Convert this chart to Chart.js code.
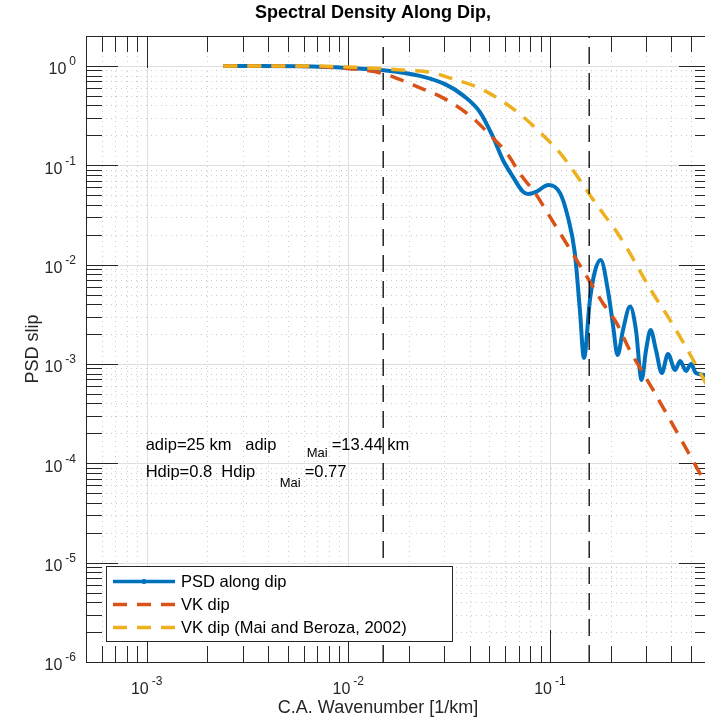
<!DOCTYPE html>
<html>
<head>
<meta charset="utf-8">
<script src="https://cdn.jsdelivr.net/npm/chart.js@4/dist/chart.umd.min.js"></script>
<style>
  html, body { margin: 0; padding: 0; background: #fff; overflow: hidden; }
  #wrap { position: relative; width: 720px; height: 723px; }
</style>
</head>
<body>
<div id="wrap"><canvas id="c" width="720" height="723"></canvas></div>
<script>
/* ── data ───────────────────────────────────────────────────────────────── */
const K_MIN = 5e-4, K_MAX = 0.63;     // wavenumber range [1/km]
const P_MIN = 1e-6, P_MAX = 2;        // PSD range

const xTickVals = [1e-3, 1e-2, 1e-1];
const xTickExp  = ['-3', '-2', '-1'];
const yTickVals = [1e0, 1e-1, 1e-2, 1e-3, 1e-4, 1e-5, 1e-6];
const yTickExp  = ['0', '-1', '-2', '-3', '-4', '-5', '-6'];

/* PSD along dip (blue) */
const psdK = [0.0024, 0.00363, 0.00573, 0.00982, 0.01483, 0.02265, 0.0307, 0.0371, 0.0449, 0.0521,
              0.0585, 0.0655, 0.0735, 0.0780, 0.0859, 0.0982, 0.1122, 0.1227, 0.1330, 0.1409,
              0.1476, 0.158, 0.167, 0.1786, 0.195, 0.2056, 0.2168, 0.2306, 0.250, 0.2673,
              0.285, 0.300, 0.316, 0.336, 0.359, 0.3855, 0.418, 0.443, 0.474, 0.501,
              0.531, 0.63];
const psdV = [1.0, 1.0, 0.99, 0.955, 0.905, 0.793, 0.644, 0.505, 0.345, 0.195,
              0.113, 0.0769, 0.0543, 0.0514, 0.0543, 0.0634, 0.0527, 0.0304, 0.0131, 0.0035,
              0.00115, 0.0044, 0.00843, 0.0111, 0.00519, 0.00247, 0.00123, 0.0022, 0.00378, 0.0022,
              0.00069, 0.00138, 0.0022, 0.00138, 0.00081, 0.00126, 0.00087, 0.00107, 0.00085, 0.00100,
              0.00081, 0.00077];

/* VK dip (red dashed) */
const vkK = [0.0024, 0.00573, 0.01051, 0.01483, 0.0209, 0.0308, 0.0414, 0.0504, 0.0611, 0.0718,
             0.0851, 0.100, 0.1358, 0.158, 0.183, 0.214, 0.249, 0.290, 0.325, 0.443, 0.63];
const vkV = [1.0, 0.99, 0.933, 0.84, 0.644, 0.455, 0.2996, 0.202, 0.133, 0.0799,
             0.0514, 0.0304, 0.0111, 0.00673, 0.00411, 0.00259, 0.00138, 0.00081, 0.000547, 0.00018, 0.00005];

/* VK dip, Mai and Beroza 2002 (yellow dashed) */
const maiK = [0.0024, 0.00573, 0.00982, 0.01432, 0.0194, 0.0254, 0.0330, 0.0449, 0.0585, 0.0735,
              0.0922, 0.1122, 0.130, 0.158, 0.183, 0.214, 0.249, 0.290, 0.332, 0.3855,
              0.451, 0.536, 0.63];
const maiV = [1.0, 1.0, 0.977, 0.94, 0.905, 0.864, 0.740, 0.596, 0.437, 0.309,
              0.202, 0.133, 0.0897, 0.0503, 0.0331, 0.0215, 0.0131, 0.00757, 0.00476, 0.00299,
              0.00175, 0.00094, 0.00051];

/* vertical reference wavenumbers (black dashed) */
const kLines = [0.0149, 0.1567];

const seriesNames = ['PSD along dip', 'VK dip', 'VK dip (Mai and Beroza, 2002)'];
const C_BLUE = '#0072BD', C_RED = '#D95319', C_YEL = '#EDB120';
const AX = '#262626';
const FONT = '"Liberation Sans", Arial, Helvetica, sans-serif';

const pts = (ks, vs) => ks.map((k, i) => ({ x: k, y: vs[i] }));

/* ── decade + minor tick values on a log range ─────────────────────────── */
function logTicks(min, max) {
  const out = [];
  for (let d = Math.floor(Math.log10(min)); d <= Math.ceil(Math.log10(max)); d++) {
    for (let m = 1; m <= 9; m++) {
      const v = m * Math.pow(10, d);
      if (v >= min * 0.9999 && v <= max * 1.0001) out.push({ v, major: m === 1 });
    }
  }
  return out;
}

/* draw "10" with a superscript exponent; (x,y) = anchor, align left/center/right */
function drawPow(ctx, exp, x, y, align) {
  ctx.font = '16px ' + FONT;
  const wb = ctx.measureText('10').width;
  ctx.font = '12px ' + FONT;
  const we = ctx.measureText(exp).width;
  const gap = 3;
  const total = wb + gap + we;
  let x0 = align === 'right' ? x - total : align === 'center' ? x - total / 2 : x;
  ctx.textAlign = 'left';
  ctx.textBaseline = 'middle';
  ctx.fillStyle = AX;
  ctx.font = '16px ' + FONT;
  ctx.fillText('10', x0, y + 4);
  ctx.font = '12px ' + FONT;
  ctx.fillText(exp, x0 + wb + gap, y - 4);
}

const decor = {
  id: 'decor',
  beforeDatasetsDraw(chart) {
    const { ctx, chartArea: a, scales: { x: xs, y: ys } } = chart;
    const xt = logTicks(K_MIN, K_MAX), yt = logTicks(P_MIN, P_MAX);
    ctx.save();
    ctx.lineWidth = 1;

    /* minor grid: dotted */
    ctx.strokeStyle = '#cbcbcb';
    ctx.setLineDash([1, 4]);
    xt.filter(t => !t.major).forEach(t => {
      const px = Math.round(xs.getPixelForValue(t.v)) + 0.5;
      ctx.beginPath(); ctx.moveTo(px, a.top); ctx.lineTo(px, a.bottom); ctx.stroke();
    });
    yt.filter(t => !t.major).forEach(t => {
      const py = Math.round(ys.getPixelForValue(t.v)) + 0.5;
      ctx.beginPath(); ctx.moveTo(a.left, py); ctx.lineTo(a.right, py); ctx.stroke();
    });

    /* major grid: solid light gray */
    ctx.setLineDash([]);
    ctx.strokeStyle = '#dedede';
    xt.filter(t => t.major).forEach(t => {
      const px = Math.round(xs.getPixelForValue(t.v)) + 0.5;
      ctx.beginPath(); ctx.moveTo(px, a.top); ctx.lineTo(px, a.bottom); ctx.stroke();
    });
    yt.filter(t => t.major).forEach(t => {
      const py = Math.round(ys.getPixelForValue(t.v)) + 0.5;
      ctx.beginPath(); ctx.moveTo(a.left, py); ctx.lineTo(a.right, py); ctx.stroke();
    });

    /* tick marks on all four sides */
    ctx.strokeStyle = AX;
    xt.forEach(t => {
      const px = Math.round(xs.getPixelForValue(t.v)) + 0.5;
      const L = t.major ? 32 : 16;
      ctx.beginPath();
      ctx.moveTo(px, a.bottom); ctx.lineTo(px, a.bottom - L);
      ctx.moveTo(px, a.top); ctx.lineTo(px, a.top + L);
      ctx.stroke();
    });
    yt.forEach(t => {
      const py = Math.round(ys.getPixelForValue(t.v)) + 0.5;
      const L = t.major ? 32 : 16;
      ctx.beginPath();
      ctx.moveTo(a.left, py); ctx.lineTo(a.left + L, py);
      ctx.moveTo(a.right, py); ctx.lineTo(a.right - L, py);
      ctx.stroke();
    });
    ctx.restore();
  },

  afterDatasetsDraw(chart) {
    const { ctx, chartArea: a, scales: { x: xs, y: ys } } = chart;
    ctx.save();

    /* axes box */
    ctx.strokeStyle = AX;
    ctx.lineWidth = 1;
    ctx.strokeRect(a.left + 0.5, a.top + 0.5, a.right - a.left, a.bottom - a.top);

    /* tick labels */
    xTickVals.forEach((v, i) => drawPow(ctx, xTickExp[i], xs.getPixelForValue(v), a.bottom + 24, 'center'));
    yTickVals.forEach((v, i) => drawPow(ctx, yTickExp[i], a.left - 10, ys.getPixelForValue(v), 'right'));

    /* title + axis labels */
    ctx.fillStyle = '#000';
    ctx.textAlign = 'center';
    ctx.textBaseline = 'middle';
    ctx.font = 'bold 18px ' + FONT;
    ctx.fillText('Spectral Density Along Dip,', 373, 13);
    ctx.fillStyle = AX;
    ctx.font = '18px ' + FONT;
    ctx.fillText('C.A. Wavenumber [1/km]', 378, a.bottom + 46);
    ctx.save();
    ctx.translate(33, (a.top + a.bottom) / 2);
    ctx.rotate(-Math.PI / 2);
    ctx.fillText('PSD slip', 0, 0);
    ctx.restore();

    /* annotations placed in data coordinates */
    ctx.fillStyle = '#000';
    ctx.textAlign = 'left';
    const tx = xs.getPixelForValue(1e-3) - 1;
    const ty1 = ys.getPixelForValue(1.5e-4), ty2 = ys.getPixelForValue(8e-5);
    ctx.font = '16.5px ' + FONT;
    ctx.fillText('adip=25 km   adip', tx, ty1);
    ctx.fillText('=13.44 km', tx + 186, ty1);
    ctx.fillText('Hdip=0.8  Hdip', tx, ty2);
    ctx.fillText('=0.77', tx + 159, ty2);
    ctx.font = '13px ' + FONT;
    ctx.fillText('Mai', tx + 161, ty1 + 8);
    ctx.fillText('Mai', tx + 134, ty2 + 10);

    /* legend */
    const lx = 106.5, ly = 566.5, lw = 346, lh = 75;
    ctx.fillStyle = '#fff';
    ctx.fillRect(lx, ly, lw, lh);
    ctx.strokeStyle = AX;
    ctx.lineWidth = 1;
    ctx.strokeRect(lx, ly, lw, lh);
    const rows = [581.5, 604.5, 627.5];
    const styles = [
      { c: C_BLUE, w: 3.5, dash: [] },
      { c: C_RED, w: 3.5, dash: [14, 10] },
      { c: C_YEL, w: 3.5, dash: [14, 10] }
    ];
    rows.forEach((ry, i) => {
      const s = styles[i];
      ctx.strokeStyle = s.c;
      ctx.lineWidth = s.w;
      ctx.setLineDash(s.dash);
      ctx.beginPath(); ctx.moveTo(113, ry); ctx.lineTo(175, ry); ctx.stroke();
      ctx.setLineDash([]);
      if (i === 0) {
        ctx.fillStyle = s.c;
        ctx.beginPath(); ctx.arc(144, ry, 2.5, 0, Math.PI * 2); ctx.fill();
      }
      ctx.fillStyle = '#000';
      ctx.font = '16.5px ' + FONT;
      ctx.textAlign = 'left';
      ctx.textBaseline = 'middle';
      ctx.fillText(seriesNames[i], 181, ry + 1);
    });
    ctx.restore();
  }
};

const ds = [
  { label: seriesNames[0], data: pts(psdK, psdV), borderColor: C_BLUE, borderWidth: 4,
    cubicInterpolationMode: 'monotone', order: 3 },
  { label: seriesNames[1], data: pts(vkK, vkV), borderColor: C_RED, borderWidth: 3.5,
    borderDash: [14, 10], cubicInterpolationMode: 'monotone', order: 2 },
  { label: seriesNames[2], data: pts(maiK, maiV), borderColor: C_YEL, borderWidth: 3.5,
    borderDash: [14, 10], cubicInterpolationMode: 'monotone', order: 1 }
].concat(kLines.map(k => ({
  label: 'k' + k, data: [{ x: k, y: P_MIN }, { x: k, y: P_MAX }],
  borderColor: '#000', borderWidth: 1.3, borderDash: [17, 9], order: 0
})));

new Chart(document.getElementById('c'), {
  type: 'line',
  data: { datasets: ds.map(d => Object.assign({ pointRadius: 0, fill: false }, d)) },
  options: {
    responsive: false,
    animation: false,
    devicePixelRatio: 1,
    events: [],
    layout: { padding: { left: 86, top: 36, right: 9, bottom: 61 } },
    scales: {
      x: { type: 'logarithmic', min: K_MIN, max: K_MAX, display: false },
      y: { type: 'logarithmic', min: P_MIN, max: P_MAX, display: false }
    },
    plugins: { legend: { display: false }, tooltip: { enabled: false } }
  },
  plugins: [decor]
});
</script>
</body>
</html>
